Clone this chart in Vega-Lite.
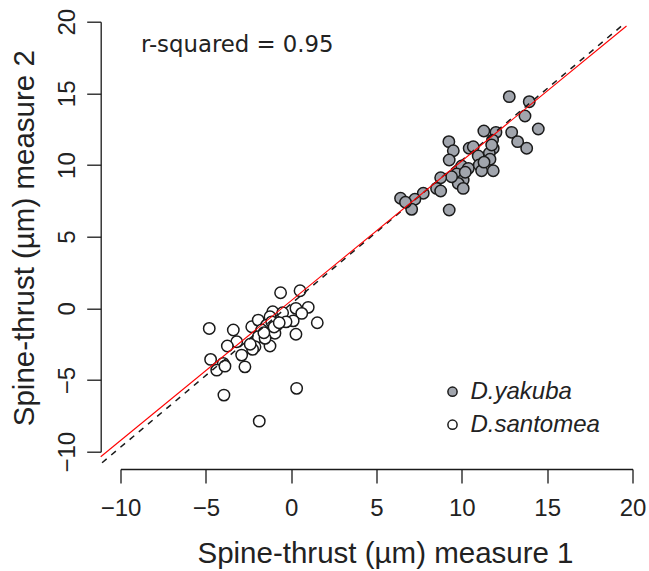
{
  "$schema": "https://vega.github.io/schema/vega-lite/v6.json",
  "width": 512,
  "height": 430,
  "autosize": {"type": "none"},
  "padding": {"left": 120.5, "top": 21.7, "right": 16.5, "bottom": 119.3},
  "background": "white",
  "config": {
    "view": {"stroke": null},
    "axis": {
      "grid": false,
      "domainColor": "#1a1a1a",
      "domainWidth": 1.3,
      "tickColor": "#1a1a1a",
      "tickWidth": 1.3,
      "tickSize": 14,
      "labelFont": "Liberation Sans",
      "labelFontSize": 24,
      "labelColor": "#222222",
      "labelFlush": false,
      "labelOverlap": false,
      "titleFont": "Liberation Sans",
      "titleFontSize": 29.5,
      "titleFontWeight": "normal",
      "titleColor": "#222222"
    }
  },
  "datasets": {
    "pts": [
      {"species": "D.yakuba", "x": 12.78, "y": 14.77},
      {"species": "D.yakuba", "x": 13.95, "y": 14.42},
      {"species": "D.yakuba", "x": 13.70, "y": 13.42},
      {"species": "D.yakuba", "x": 14.48, "y": 12.51},
      {"species": "D.yakuba", "x": 12.92, "y": 12.28},
      {"species": "D.yakuba", "x": 13.27, "y": 11.63},
      {"species": "D.yakuba", "x": 13.80, "y": 11.17},
      {"species": "D.yakuba", "x": 11.29, "y": 12.37},
      {"species": "D.yakuba", "x": 12.00, "y": 12.28},
      {"species": "D.yakuba", "x": 11.80, "y": 11.74},
      {"species": "D.yakuba", "x": 9.24, "y": 11.63},
      {"species": "D.yakuba", "x": 9.50, "y": 11.00},
      {"species": "D.yakuba", "x": 10.43, "y": 11.17},
      {"species": "D.yakuba", "x": 10.67, "y": 11.28},
      {"species": "D.yakuba", "x": 11.84, "y": 11.17},
      {"species": "D.yakuba", "x": 11.61, "y": 10.82},
      {"species": "D.yakuba", "x": 11.65, "y": 10.40},
      {"species": "D.yakuba", "x": 10.96, "y": 10.63},
      {"species": "D.yakuba", "x": 9.26, "y": 10.35},
      {"species": "D.yakuba", "x": 9.99, "y": 9.93},
      {"species": "D.yakuba", "x": 10.38, "y": 9.77},
      {"species": "D.yakuba", "x": 11.02, "y": 10.00},
      {"species": "D.yakuba", "x": 11.16, "y": 9.60},
      {"species": "D.yakuba", "x": 11.84, "y": 9.60},
      {"species": "D.yakuba", "x": 9.70, "y": 9.37},
      {"species": "D.yakuba", "x": 10.08, "y": 8.95},
      {"species": "D.yakuba", "x": 9.79, "y": 8.72},
      {"species": "D.yakuba", "x": 10.08, "y": 8.37},
      {"species": "D.yakuba", "x": 9.40, "y": 9.18},
      {"species": "D.yakuba", "x": 8.76, "y": 9.11},
      {"species": "D.yakuba", "x": 8.52, "y": 8.37},
      {"species": "D.yakuba", "x": 8.76, "y": 8.19},
      {"species": "D.yakuba", "x": 7.74, "y": 8.03},
      {"species": "D.yakuba", "x": 7.25, "y": 7.61},
      {"species": "D.yakuba", "x": 6.41, "y": 7.68},
      {"species": "D.yakuba", "x": 7.06, "y": 6.91},
      {"species": "D.yakuba", "x": 9.26, "y": 6.86},
      {"species": "D.yakuba", "x": 11.75, "y": 11.40},
      {"species": "D.yakuba", "x": 6.70, "y": 7.40},
      {"species": "D.yakuba", "x": 10.20, "y": 9.50},
      {"species": "D.yakuba", "x": 11.30, "y": 10.20},
      {"species": "D.santomea", "x": -0.62, "y": 1.09},
      {"species": "D.santomea", "x": 0.52, "y": 1.23},
      {"species": "D.santomea", "x": -4.80, "y": -1.40},
      {"species": "D.santomea", "x": -3.39, "y": -1.51},
      {"species": "D.santomea", "x": -2.31, "y": -1.28},
      {"species": "D.santomea", "x": -1.93, "y": -0.82},
      {"species": "D.santomea", "x": -1.08, "y": -0.24},
      {"species": "D.santomea", "x": -0.50, "y": -0.31},
      {"species": "D.santomea", "x": 0.28, "y": 0.00},
      {"species": "D.santomea", "x": 1.00, "y": 0.07},
      {"species": "D.santomea", "x": 0.62, "y": -0.35},
      {"species": "D.santomea", "x": 1.53, "y": -1.00},
      {"species": "D.santomea", "x": 0.12, "y": -0.87},
      {"species": "D.santomea", "x": -0.30, "y": -0.94},
      {"species": "D.santomea", "x": 0.28, "y": -1.81},
      {"species": "D.santomea", "x": -0.85, "y": -1.17},
      {"species": "D.santomea", "x": -1.24, "y": -0.59},
      {"species": "D.santomea", "x": -1.44, "y": -1.17},
      {"species": "D.santomea", "x": -1.73, "y": -1.51},
      {"species": "D.santomea", "x": -1.93, "y": -1.98},
      {"species": "D.santomea", "x": -1.34, "y": -1.74},
      {"species": "D.santomea", "x": -0.95, "y": -1.74},
      {"species": "D.santomea", "x": -1.24, "y": -2.63},
      {"species": "D.santomea", "x": -2.12, "y": -2.68},
      {"species": "D.santomea", "x": -2.26, "y": -2.86},
      {"species": "D.santomea", "x": -3.19, "y": -2.33},
      {"species": "D.santomea", "x": -3.74, "y": -2.63},
      {"species": "D.santomea", "x": -2.90, "y": -3.26},
      {"species": "D.santomea", "x": -2.71, "y": -4.08},
      {"species": "D.santomea", "x": -4.72, "y": -3.56},
      {"species": "D.santomea", "x": -3.98, "y": -3.84},
      {"species": "D.santomea", "x": -4.36, "y": -4.31},
      {"species": "D.santomea", "x": -3.88, "y": -4.03},
      {"species": "D.santomea", "x": -3.94, "y": -6.05},
      {"species": "D.santomea", "x": 0.32, "y": -5.58},
      {"species": "D.santomea", "x": -1.87, "y": -7.87},
      {"species": "D.santomea", "x": -1.53, "y": -2.09},
      {"species": "D.santomea", "x": -1.14, "y": -0.94},
      {"species": "D.santomea", "x": -1.00, "y": -1.30},
      {"species": "D.santomea", "x": -0.70, "y": -1.00},
      {"species": "D.santomea", "x": -1.60, "y": -1.70},
      {"species": "D.santomea", "x": -2.40, "y": -2.50}
    ],
    "oneToOne": [
      {"x": -11.08, "y": -10.77},
      {"x": 19.36, "y": 19.70}
    ],
    "fit": [
      {"x": -11.16, "y": -10.35},
      {"x": 19.65, "y": 19.70}
    ],
    "note": [
      {"x": -8.80, "y": 17.91, "label": "r-squared = 0.95"}
    ]
  },
  "layer": [
    {
      "data": {"name": "pts"},
      "mark": {"type": "point", "shape": "circle", "filled": true, "stroke": "#1a1a1a", "strokeWidth": 1.5, "size": 130, "opacity": 1},
      "encoding": {
        "x": {
          "field": "x", "type": "quantitative",
          "scale": {"domain": [-10, 20], "nice": false, "zero": false},
          "axis": {
            "values": [-10, -5, 0, 5, 10, 15, 20],
            "format": "d",
            "offset": 17.3,
            "labelBaseline": "alphabetic",
            "labelPadding": 32,
            "title": "Spine-thrust (µm) measure 1",
            "titleBaseline": "alphabetic",
            "titleX": 264.5,
            "titleY": 93
          }
        },
        "y": {
          "field": "y", "type": "quantitative",
          "scale": {"domain": [-10, 20], "nice": false, "zero": false},
          "axis": {
            "values": [-10, -5, 0, 5, 10, 15, 20],
            "format": "d",
            "offset": 19.8,
            "labelAngle": 270,
            "labelAlign": "center",
            "labelBaseline": "alphabetic",
            "labelPadding": 12.7,
            "title": "Spine-thrust (µm) measure 2",
            "titleAngle": 270,
            "titleBaseline": "alphabetic",
            "titleAlign": "center",
            "titleX": -67.5,
            "titleY": 216
          }
        },
        "fill": {
          "field": "species", "type": "nominal",
          "scale": {"domain": ["D.yakuba", "D.santomea"], "range": ["#a1a5ad", "#ffffff"]},
          "legend": {
            "title": null,
            "orient": "none",
            "legendX": 320,
            "legendY": 358,
            "padding": 0,
            "symbolType": "circle",
            "symbolSize": 85,
            "symbolStrokeColor": "#1a1a1a",
            "symbolStrokeWidth": 1.5,
            "symbolOpacity": 1,
            "labelFont": "Liberation Sans",
            "labelFontStyle": "italic",
            "labelFontSize": 24,
            "labelColor": "#222222",
            "labelOffset": 6,
            "rowPadding": 9
          }
        }
      }
    },
    {
      "data": {"name": "oneToOne"},
      "mark": {"type": "line", "color": "#1a1a1a", "strokeWidth": 1.5, "strokeDash": [6, 6]},
      "encoding": {
        "x": {"field": "x", "type": "quantitative"},
        "y": {"field": "y", "type": "quantitative"}
      }
    },
    {
      "data": {"name": "fit"},
      "mark": {"type": "line", "color": "#ff0000", "strokeWidth": 1.1},
      "encoding": {
        "x": {"field": "x", "type": "quantitative"},
        "y": {"field": "y", "type": "quantitative"}
      }
    },
    {
      "data": {"name": "note"},
      "mark": {"type": "text", "font": "DejaVu Sans", "fontSize": 22.8, "align": "left", "baseline": "alphabetic", "color": "#222222"},
      "encoding": {
        "x": {"field": "x", "type": "quantitative"},
        "y": {"field": "y", "type": "quantitative"},
        "text": {"field": "label"}
      }
    }
  ]
}
